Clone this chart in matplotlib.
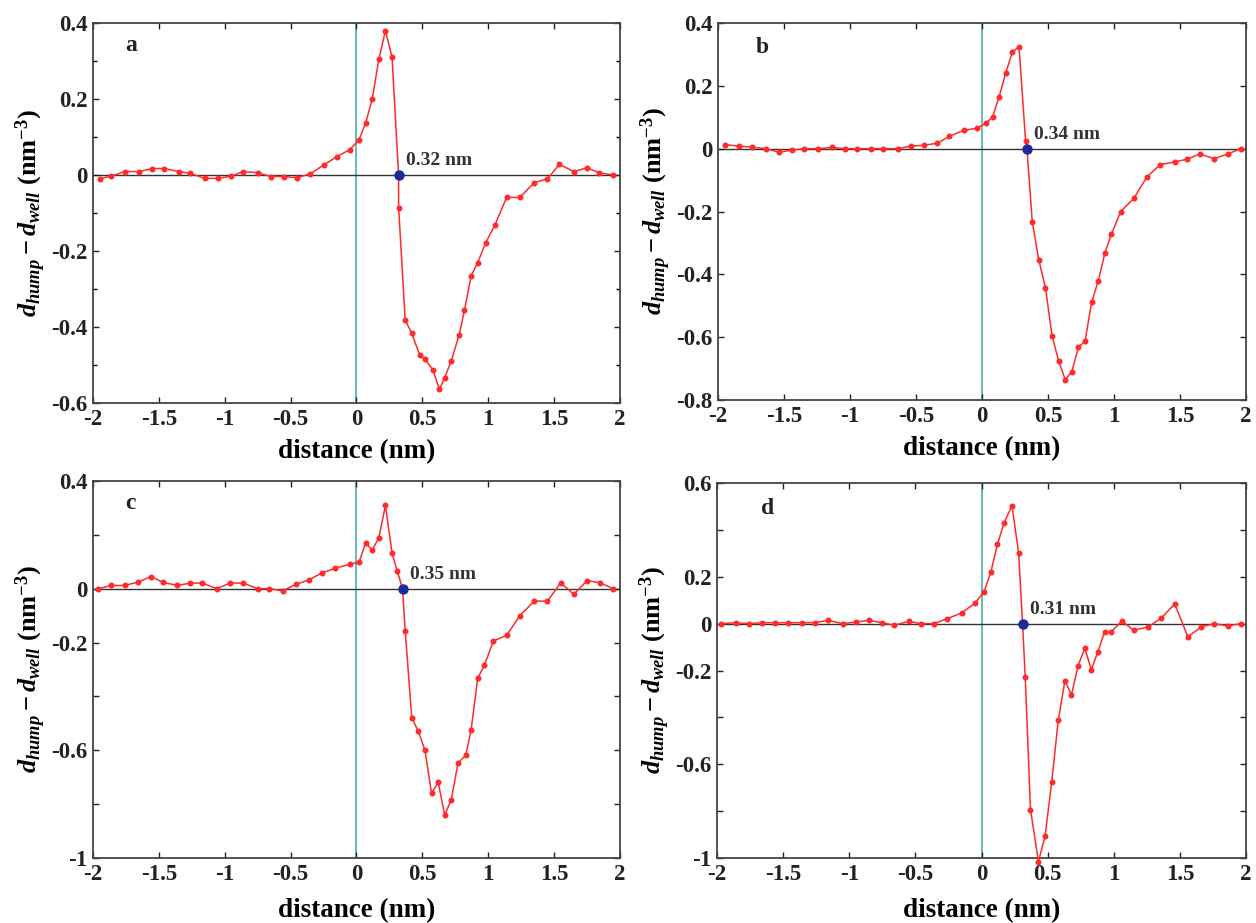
import matplotlib
matplotlib.use("Agg")
from matplotlib import pyplot as plt

plt.rcParams['font.family'] = ['Liberation Serif', 'DejaVu Serif']
plt.rcParams['font.weight'] = 'bold'
plt.rcParams['mathtext.fontset'] = 'custom'
plt.rcParams['mathtext.rm'] = 'Liberation Serif:bold'
plt.rcParams['mathtext.bf'] = 'Liberation Serif:bold'
plt.rcParams['mathtext.it'] = 'Liberation Serif:italic:bold'

# panel a
xa = [-1.95, -1.86, -1.76, -1.65, -1.55, -1.46, -1.35, -1.26, -1.15, -1.05, -0.95, -0.86, -0.75,
      -0.65, -0.55, -0.45, -0.35, -0.25, -0.15, -0.05, 0.02, 0.07, 0.12, 0.17, 0.22, 0.27, 0.32,
      0.32, 0.37, 0.42, 0.48, 0.52, 0.58, 0.63, 0.67, 0.72, 0.78, 0.82, 0.87, 0.92, 0.98, 1.05,
      1.14, 1.24, 1.35, 1.45, 1.54, 1.65, 1.75, 1.84, 1.95]
ya = [-0.010, -0.003, 0.009, 0.009, 0.017, 0.017, 0.009, 0.004, -0.009, -0.009, -0.003, 0.009, 0.006,
      -0.004, -0.004, -0.007, 0.003, 0.026, 0.048, 0.067, 0.093, 0.137, 0.200, 0.305, 0.380, 0.310, 0.0,
      -0.086, -0.382, -0.417, -0.474, -0.484, -0.513, -0.564, -0.533, -0.489, -0.420, -0.356, -0.266, -0.231, -0.179, -0.132,
      -0.059, -0.059, -0.020, -0.010, 0.028, 0.009, 0.019, 0.006, 0.0]

# panel b
xb = [-1.95, -1.84, -1.74, -1.64, -1.54, -1.44, -1.35, -1.24, -1.14, -1.04, -0.95, -0.84, -0.75,
      -0.64, -0.54, -0.44, -0.34, -0.25, -0.14, -0.04, 0.03, 0.08, 0.13, 0.18, 0.23, 0.28, 0.33,
      0.34, 0.38, 0.43, 0.48, 0.53, 0.58, 0.63, 0.68, 0.73, 0.78, 0.83, 0.88, 0.93, 0.98, 1.05,
      1.15, 1.25, 1.35, 1.46, 1.55, 1.65, 1.76, 1.86, 1.96]
yb = [0.013, 0.008, 0.005, 0.0, -0.011, -0.005, 0.0, 0.0, 0.004, 0.0, 0.0, 0.0, 0.0,
      0.0, 0.008, 0.011, 0.017, 0.039, 0.058, 0.065, 0.081, 0.102, 0.166, 0.242, 0.308, 0.324, 0.023,
      0.0, -0.232, -0.355, -0.442, -0.595, -0.676, -0.735, -0.710, -0.632, -0.613, -0.489, -0.421, -0.333, -0.272, -0.200,
      -0.158, -0.089, -0.051, -0.042, -0.034, -0.017, -0.032, -0.017, 0.0]

# panel c
xc = [-1.96, -1.86, -1.76, -1.66, -1.56, -1.47, -1.36, -1.26, -1.17, -1.06, -0.96, -0.86, -0.75,
      -0.66, -0.56, -0.46, -0.36, -0.26, -0.16, -0.05, 0.02, 0.07, 0.12, 0.17, 0.22, 0.27, 0.31,
      0.35, 0.37, 0.42, 0.47, 0.52, 0.57, 0.62, 0.67, 0.72, 0.77, 0.83, 0.87, 0.92, 0.97, 1.04,
      1.14, 1.24, 1.35, 1.45, 1.55, 1.65, 1.75, 1.85, 1.95]
yc = [0.0, 0.012, 0.012, 0.024, 0.045, 0.024, 0.012, 0.021, 0.021, 0.0, 0.021, 0.021, 0.0,
      0.0, -0.008, 0.016, 0.033, 0.059, 0.076, 0.091, 0.099, 0.170, 0.144, 0.190, 0.309, 0.133, 0.064,
      0.0, -0.158, -0.479, -0.530, -0.600, -0.760, -0.719, -0.840, -0.784, -0.648, -0.618, -0.525, -0.333, -0.285, -0.194,
      -0.173, -0.100, -0.046, -0.046, 0.022, -0.021, 0.030, 0.022, 0.0]

# panel d
xd = [-1.97, -1.86, -1.76, -1.66, -1.56, -1.46, -1.36, -1.26, -1.16, -1.05, -0.95, -0.85, -0.75,
      -0.66, -0.55, -0.46, -0.36, -0.26, -0.15, -0.05, 0.02, 0.07, 0.12, 0.17, 0.23, 0.28, 0.31,
      0.33, 0.37, 0.43, 0.48, 0.53, 0.58, 0.63, 0.68, 0.73, 0.78, 0.83, 0.88, 0.93, 0.98, 1.06,
      1.15, 1.26, 1.36, 1.46, 1.56, 1.66, 1.76, 1.86, 1.96]
yd = [0.0, 0.004, 0.0, 0.004, 0.004, 0.004, 0.004, 0.004, 0.014, 0.0, 0.007, 0.014, 0.004,
      -0.007, 0.010, 0.0, 0.0, 0.021, 0.046, 0.087, 0.137, 0.219, 0.338, 0.430, 0.503, 0.303, 0.0,
      -0.226, -0.793, -1.015, -0.908, -0.677, -0.412, -0.244, -0.304, -0.179, -0.105, -0.196, -0.119, -0.035, -0.035, 0.011,
      -0.028, -0.014, 0.024, 0.084, -0.056, -0.014, 0.0, -0.010, 0.0]

crossings = [0.32, 0.34, 0.35, 0.31]
cross_labels = ['0.32 nm', '0.34 nm', '0.35 nm', '0.31 nm']
letters = ['a', 'b', 'c', 'd']
ylims = [(-0.6, 0.4), (-0.8, 0.4), (-1.0, 0.4), (-1.0, 0.6)]
yticks = [[-0.6, -0.4, -0.2, 0, 0.2, 0.4],
          [-0.8, -0.6, -0.4, -0.2, 0, 0.2, 0.4],
          [-1.0, -0.8, -0.6, -0.4, -0.2, 0, 0.2, 0.4],
          [-1.0, -0.8, -0.6, -0.4, -0.2, 0, 0.2, 0.4, 0.6]]
ytick_labels = [['-0.6', '-0.4', '-0.2', '0', '0.2', '0.4'],
                ['-0.8', '-0.6', '-0.4', '-0.2', '0', '0.2', '0.4'],
                ['-1', '', '-0.6', '', '-0.2', '0', '', '0.4'],
                ['-1', '', '-0.6', '', '-0.2', '0', '0.2', '', '0.6']]
xticks = [-2, -1.5, -1, -0.5, 0, 0.5, 1, 1.5, 2]
xtick_labels = ['-2', '-1.5', '-1', '-0.5', '0', '0.5', '1', '1.5', '2']

xs = [xa, xb, xc, xd]
ys = [ya, yb, yc, yd]

fig = plt.figure(figsize=(12.56, 9.23), dpi=100)
rects = [(0.074, 0.5634, 0.4196, 0.4117),
         (0.5717, 0.5666, 0.4204, 0.4085),
         (0.074, 0.0704, 0.4196, 0.4085),
         (0.5709, 0.0704, 0.4212, 0.4063)]
letter_pos = [(0.072, 0.94), (0.083, 0.934), (0.072, 0.939), (0.095, 0.933)]
xlabel_pads = [7, 7, 10, 10]

ylabel = r'$d_{hump} - d_{well}$ (nm$^{-3}$)'

for i in range(4):
    ax = fig.add_axes(rects[i])
    ax.axvline(0, color='#5bb3b3', lw=1.3, zorder=1)
    ax.axhline(0, color='#333333', lw=1.0, zorder=1)
    clip = i != 3
    ax.plot(xs[i], ys[i], '-o', color='#ff2a2a', lw=1.1, ms=3.3, zorder=3, clip_on=clip)
    ax.plot([crossings[i]], [0], 'o', color='#1a2a9a', ms=6.5, zorder=4)
    ax.annotate(cross_labels[i], (crossings[i], 0), xytext=(7, 6), textcoords='offset pixels',
                fontsize=14, fontweight='bold', color='#333333', ha='left', va='bottom')
    ax.text(letter_pos[i][0], letter_pos[i][1], letters[i], transform=ax.transAxes,
            fontsize=17, fontweight='bold', ha='center', va='center', color='#222222')

    ax.set_xlim(-2, 2)
    ax.set_ylim(*ylims[i])
    ax.set_xticks(xticks)
    ax.set_xticklabels(xtick_labels)
    ax.set_yticks(yticks[i])
    ax.set_yticklabels(ytick_labels[i])
    if i == 0:
        ax.set_yticks([-0.5, -0.3, -0.1, 0.1, 0.3], minor=True)
    ax.tick_params(direction='in', top=True, right=True, length=4, width=1.0,
                   labelsize=16.5, pad=4, colors='#222222')
    ax.tick_params(which='minor', direction='in', right=True, length=3, width=1.0)
    for lab in ax.get_xticklabels() + ax.get_yticklabels():
        lab.set_fontweight('bold')
    for sp in ax.spines.values():
        sp.set_linewidth(1.3)
        sp.set_color('#444444')
    ax.set_xlabel('distance (nm)', fontsize=19.5, fontweight='bold', labelpad=xlabel_pads[i])
    ax.set_ylabel(ylabel, fontsize=19, fontweight='bold', labelpad=2)

fig.savefig('out.png', dpi=100)
